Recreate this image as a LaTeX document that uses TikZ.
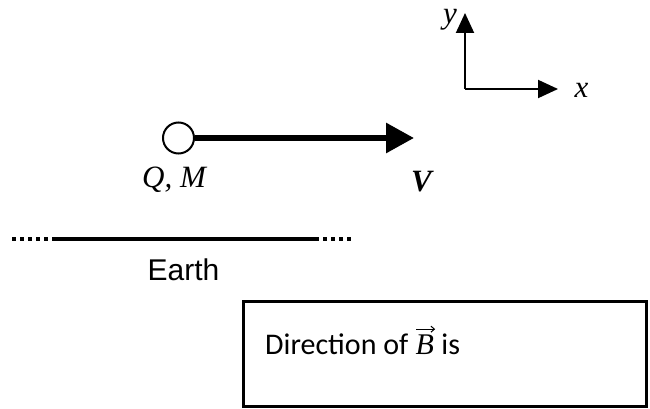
\documentclass[tikz,border=0pt]{standalone}
\usepackage{fontspec}
\setmainfont{Liberation Serif}
\newfontfamily\arialf{Liberation Sans}
\newfontfamily\calib{Carlito}
\usetikzlibrary{arrows.meta}
\begin{document}
\begin{tikzpicture}[x=1pt,y=-1pt,
  lbl/.style={font=\fontsize{31}{36}\selectfont\itshape, inner sep=0, anchor=base},
  axisline/.style={line width=2pt, -{Triangle[length=20pt,width=18pt]}},
  vel/.style={line width=6pt, -{Triangle[length=28pt,width=29pt]}},
  ground/.style={line width=4pt},
  grounddots/.style={line width=3.5pt, dash pattern=on 4pt off 4pt},
  answerbox/.style={draw, line width=3pt, inner sep=0, minimum width=403pt, minimum height=105.5pt},
  boxtext/.style={inner sep=0, anchor=base west, font=\calib\fontsize{30}{36}\selectfont}
]
\useasboundingbox (0,0) rectangle (650,409);
% axes
\coordinate (o) at (465,89);
\coordinate (ytip) at (465,13);
\coordinate (xtip) at (558,89);
\draw[axisline] (o) -- (ytip);
\draw[axisline] (o) -- (xtip);
\node[lbl] (ylab) at (450,24) {y};
\node[lbl] (xlab) at (581.5,98) {x};
% charge and velocity
\node[circle, draw, line width=2pt, minimum size=31pt, inner sep=0] (ball) at (178.5,138) {};
\coordinate (vtip) at (414,138);
\draw[vel] (ball.east) -- (vtip);
\node[lbl] (qm) at (174,187) {Q, M};
\node[lbl, font=\fontsize{31}{36}\selectfont\bfseries\itshape] (vlab) at (421.5,191) {V};
% earth
\coordinate (e1) at (12,239);
\coordinate (e2) at (52,239);
\coordinate (e3) at (315,239);
\coordinate (e4) at (352,239);
\draw[grounddots] (e1) -- (e2);
\draw[ground] (e2) -- (e3);
\draw[grounddots] (e3) -- (e4);
\node[inner sep=0, anchor=base, font=\arialf\fontsize{30}{36}\selectfont] (earth) at (183.5,280) {Earth};
% box
\node[answerbox] (box) at (445,353.75) {};
\node[boxtext] (dir) at (265,354) {Direction of};
\node[boxtext, font=\fontsize{30}{36}\selectfont\itshape] (bvec) at ([xshift=7pt]dir.base east) {B};
\node[boxtext] (isw) at ([xshift=7pt]bvec.base east) {is};
\draw[line width=1pt, -{Straight Barb[length=3.5pt,width=6pt]}] ([yshift=5pt,xshift=1pt]bvec.north west) -- ([yshift=5pt,xshift=1pt]bvec.north east);
\end{tikzpicture}
\end{document}
